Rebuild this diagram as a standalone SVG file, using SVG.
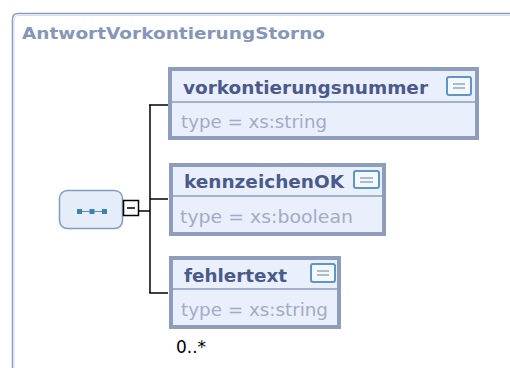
<svg xmlns="http://www.w3.org/2000/svg" width="510" height="368" viewBox="0 0 510 368">
<defs>
<style>
.frame{fill:#ffffff;stroke:#8c9cbc;stroke-width:1.5}
.frame2{fill:none;stroke:#d4def0;stroke-width:1}
.title{font-family:"DejaVu Sans","Liberation Sans",sans-serif;font-weight:bold;font-size:16px;fill:#8696b8}
.box{fill:#eaf0fb;stroke:#8e9dbc;stroke-width:4}
.div{stroke:#8e9dbc;stroke-width:1.5}
.name{font-family:"DejaVu Sans","Liberation Sans",sans-serif;font-weight:bold;font-size:17.5px;fill:#4b5a8c}
.type{font-family:"DejaVu Sans","Liberation Sans",sans-serif;font-size:18px;fill:#a2abc8}
.icon{fill:#f4f8fd;stroke:#5f96c4;stroke-width:2}
.iline{stroke:#7d9cc0;stroke-width:1.3}
.conn{fill:none;stroke:#000000;stroke-width:1.5}
.card{font-family:"DejaVu Sans","Liberation Sans",sans-serif;font-size:17px;fill:#000000}
</style>
</defs>
<g id="frame">
<path class="frame" d="M12.5 380 V19 Q12.5 13.5 18 13.5 H515"/>
<path class="frame2" d="M14 380 V20 Q14 15.5 19 15.5 H515"/>
<text class="title" x="22" y="38.5" textLength="303" lengthAdjust="spacingAndGlyphs">AntwortVorkontierungStorno</text>
</g>
<g id="connectors">
<line class="conn" x1="139" y1="211" x2="150" y2="211"/>
<line class="conn" x1="150" y1="104.5" x2="150" y2="293"/>
<line class="conn" x1="149.25" y1="105" x2="168" y2="105"/>
<line class="conn" x1="150" y1="199" x2="168" y2="199"/>
<line class="conn" x1="149.25" y1="293" x2="168" y2="293"/>
</g>
<g id="sequence">
<rect x="59.5" y="190.5" width="63" height="38" rx="8" fill="#e5edf8" stroke="#7b9ec2" stroke-width="1.5"/>
<line x1="78" y1="211.5" x2="106" y2="211.5" stroke="#5a8fbd" stroke-width="1"/>
<rect x="77" y="209" width="5" height="5" fill="#3f80b5"/>
<rect x="89.5" y="209" width="5" height="5" fill="#3f80b5"/>
<rect x="102" y="209" width="5" height="5" fill="#3f80b5"/>
<rect x="123.5" y="200.5" width="15" height="15" fill="#ffffff" stroke="#000" stroke-width="1.5"/>
<line x1="127" y1="208" x2="135" y2="208" stroke="#000" stroke-width="1.5"/>
</g>
<g id="vorkontierungsnummer">
<rect class="box" x="170" y="69" width="307" height="69"/>
<line class="div" x1="172" y1="102" x2="475" y2="102"/>
<text class="name" x="183" y="94" textLength="245" lengthAdjust="spacingAndGlyphs">vorkontierungsnummer</text>
<rect class="icon" x="447" y="77" width="24" height="18" rx="2"/>
<line class="iline" x1="453" y1="84" x2="465" y2="84"/>
<line class="iline" x1="453" y1="88" x2="465" y2="88"/>
<text class="type" x="181" y="128" textLength="146" lengthAdjust="spacingAndGlyphs">type = xs:string</text>
</g>
<g id="kennzeichenOK">
<rect class="box" x="171" y="165" width="213" height="69"/>
<line class="div" x1="173" y1="196" x2="382" y2="196"/>
<text class="name" x="184" y="188" textLength="160" lengthAdjust="spacingAndGlyphs">kennzeichenOK</text>
<rect class="icon" x="354" y="171" width="25" height="17" rx="2"/>
<line class="iline" x1="360" y1="178" x2="373" y2="178"/>
<line class="iline" x1="360" y1="182" x2="373" y2="182"/>
<text class="type" x="180" y="223" textLength="173" lengthAdjust="spacingAndGlyphs">type = xs:boolean</text>
</g>
<g id="fehlertext">
<rect class="box" x="171" y="258" width="168" height="69"/>
<line class="div" x1="173" y1="289" x2="337" y2="289"/>
<text class="name" x="184" y="282" textLength="103" lengthAdjust="spacingAndGlyphs">fehlertext</text>
<rect class="icon" x="311" y="264" width="24" height="18" rx="2"/>
<line class="iline" x1="317" y1="271" x2="329" y2="271"/>
<line class="iline" x1="317" y1="275" x2="329" y2="275"/>
<text class="type" x="181" y="316" textLength="147" lengthAdjust="spacingAndGlyphs">type = xs:string</text>
<text class="card" x="176" y="353">0..*</text>
</g>
</svg>
